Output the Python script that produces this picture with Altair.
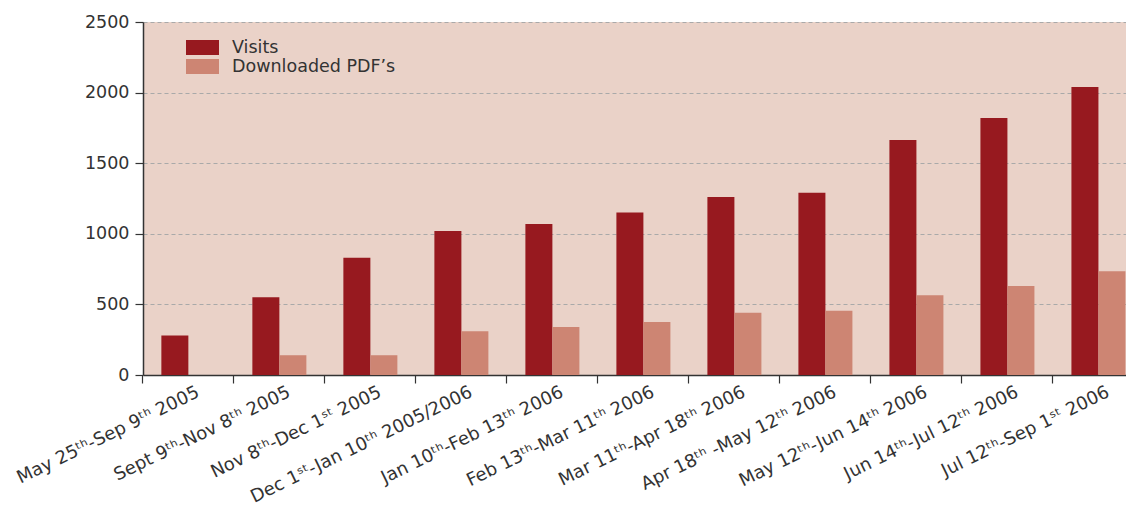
import altair as alt
import pandas as pd

categories = [
    "May 25ᵗʰ-Sep 9ᵗʰ 2005",
    "Sept 9ᵗʰ-Nov 8ᵗʰ 2005",
    "Nov 8ᵗʰ-Dec 1ˢᵗ 2005",
    "Dec 1ˢᵗ-Jan 10ᵗʰ 2005/2006",
    "Jan 10ᵗʰ-Feb 13ᵗʰ 2006",
    "Feb 13ᵗʰ-Mar 11ᵗʰ 2006",
    "Mar 11ᵗʰ-Apr 18ᵗʰ 2006",
    "Apr 18ᵗʰ -May 12ᵗʰ 2006",
    "May 12ᵗʰ-Jun 14ᵗʰ 2006",
    "Jun 14ᵗʰ-Jul 12ᵗʰ 2006",
    "Jul 12ᵗʰ-Sep 1ˢᵗ  2006",
]
visits = [280, 550, 830, 1020, 1070, 1150, 1260, 1290, 1665, 1820, 2040]
pdfs = [0, 140, 140, 310, 340, 375, 440, 455, 565, 630, 735]
series = ["Visits", "Downloaded PDF’s"]
colors = ["#97191f", "#cd8573"]
y_ticks = [0, 500, 1000, 1500, 2000, 2500]

rows = []
for c, v, p in zip(categories, visits, pdfs):
    rows.append({"period": c, "series": series[0], "value": v})
    rows.append({"period": c, "series": series[1], "value": p})
df = pd.DataFrame(rows)

FONT = "DejaVu Sans"
rect_path = "M-1.65,-0.75 L1.65,-0.75 L1.65,0.75 L-1.65,0.75 Z"

chart = alt.Chart(df).mark_bar().encode(
    x=alt.X(
        "period:N",
        sort=categories,
        title=None,
        scale=alt.Scale(paddingInner=0.4066, paddingOuter=0.104, align=0.97),
        axis=alt.Axis(
            labelAngle=334,
            labelAlign="right",
            labelBaseline="top",
            labelFont=FONT,
            labelFontSize=18,
            labelColor="#333333",
            labelPadding=0,
            labelOffset=6,
            labelLimit=0,
            labelOverlap=False,
            labelBound=False,
            bandPosition=-0.3426,
            tickSize=8,
            tickColor="#333333",
            tickWidth=1.2,
            domainColor="#333333",
            domainWidth=1.5,
            grid=False,
        ),
    ),
    xOffset=alt.XOffset("series:N", sort=series),
    y=alt.Y(
        "value:Q",
        title=None,
        scale=alt.Scale(domain=[0, 2500], nice=False),
        axis=alt.Axis(
            values=y_ticks,
            format="d",
            labelFont=FONT,
            labelFontSize=17.5,
            labelColor="#333333",
            labelPadding=6,
            tickSize=8,
            tickColor="#333333",
            tickWidth=1.2,
            domainColor="#333333",
            domainWidth=1.5,
            grid=True,
            gridColor="#a9a9a9",
            gridDash=[4, 3],
            gridWidth=1,
        ),
    ),
    color=alt.Color(
        "series:N",
        sort=series,
        scale=alt.Scale(domain=series, range=colors),
        legend=alt.Legend(
            title=None,
            orient="none",
            legendX=49.5,
            legendY=15.5,
            symbolType=rect_path,
            symbolSize=400,
            symbolStrokeWidth=0,
            symbolOpacity=1,
            labelFont=FONT,
            labelFontSize=17.5,
            labelColor="#333333",
            labelOffset=19.5,
            labelLimit=0,
            rowPadding=0,
            padding=0,
        ),
    ),
).properties(
    width=983,
    height=353,
    autosize=alt.AutoSizeParams(type="none"),
    padding={"left": 135, "top": 14, "right": 0, "bottom": 135},
    background="white",
).configure_view(
    fill="#ead2c8",
    stroke=None,
)

chart.save("out.html", embed_options={"renderer": "svg", "actions": False})
